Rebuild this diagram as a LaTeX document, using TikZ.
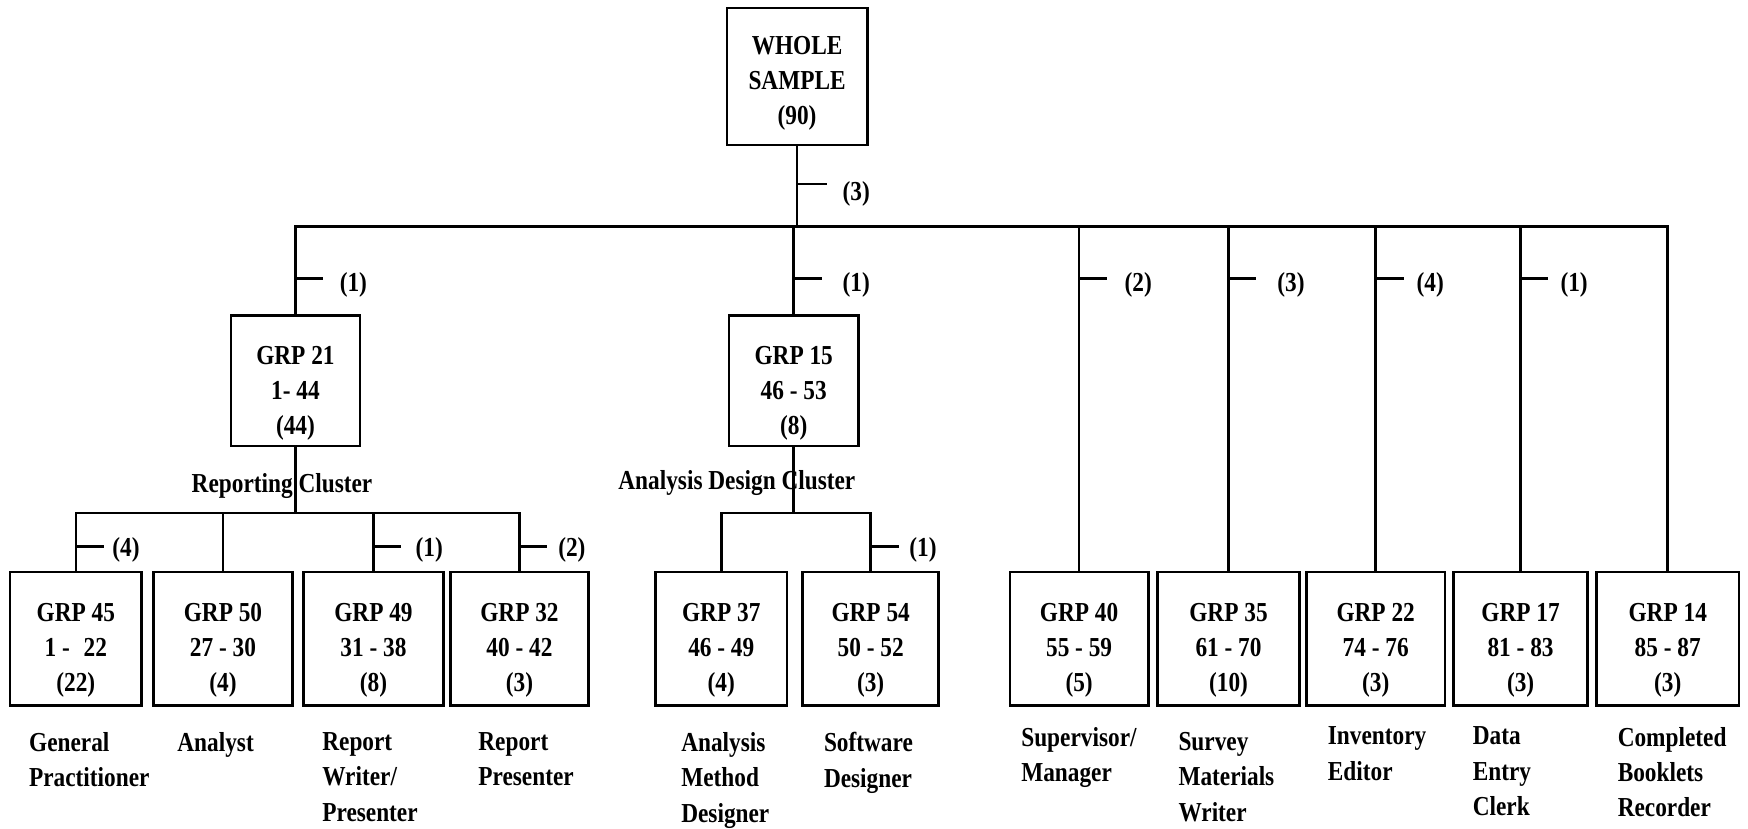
\documentclass[tikz,border=0pt]{standalone}
\usepackage{fontspec}
\setmainfont{Liberation Serif}[FakeStretch=0.85]
\newcommand{\bxt}[2]{\raisebox{0pt}[\dimexpr\height+#1\relax][\depth]{\begin{tabular}{@{}c@{}}#2\end{tabular}}}
\begin{document}
\begin{tikzpicture}[x=0.02cm,y=-0.02cm, line width=1.3pt,
 box/.style={draw, line width=1.3pt, inner sep=0pt, font=\fontsize{14}{18}\selectfont\bfseries},
 lab/.style={inner sep=0pt, font=\fontsize{14}{18}\selectfont\bfseries},
 role/.style={inner sep=0pt, anchor=north west, align=left, font=\fontsize{14}{18}\selectfont\bfseries}]
\useasboundingbox (0,0) rectangle (1568,743);
% boxes
\node[box, minimum width=2.52cm, minimum height=2.46cm] (top) at (715,68.5) {\bxt{6pt}{WHOLE\\SAMPLE\\(90)}};
\node[box, minimum width=2.32cm, minimum height=2.34cm] (g21) at (265,341.5) {\bxt{12pt}{GRP 21\\1- 44\\(44)}};
\node[box, minimum width=2.32cm, minimum height=2.34cm] (g15) at (712,341.5) {\bxt{12pt}{GRP 15\\46 - 53\\(8)}};
\node[box, minimum width=2.36cm, minimum height=2.4cm] (g45) at (68,573) {\bxt{11pt}{GRP 45\\1 -\enspace 22\\(22)}};
\node[box, minimum width=2.5cm, minimum height=2.4cm] (g50) at (200,573) {\bxt{11pt}{GRP 50\\27 - 30\\(4)}};
\node[box, minimum width=2.52cm, minimum height=2.4cm] (g49) at (335,573) {\bxt{11pt}{GRP 49\\31 - 38\\(8)}};
\node[box, minimum width=2.48cm, minimum height=2.4cm] (g32) at (466,573) {\bxt{11pt}{GRP 32\\40 - 42\\(3)}};
\node[box, minimum width=2.36cm, minimum height=2.4cm] (g37) at (647,573) {\bxt{11pt}{GRP 37\\46 - 49\\(4)}};
\node[box, minimum width=2.44cm, minimum height=2.4cm] (g54) at (781,573) {\bxt{11pt}{GRP 54\\50 - 52\\(3)}};
\node[box, minimum width=2.48cm, minimum height=2.4cm] (g40) at (968,573) {\bxt{11pt}{GRP 40\\55 - 59\\(5)}};
\node[box, minimum width=2.54cm, minimum height=2.4cm] (g35) at (1102,573) {\bxt{11pt}{GRP 35\\61 - 70\\(10)}};
\node[box, minimum width=2.48cm, minimum height=2.4cm] (g22) at (1234,573) {\bxt{11pt}{GRP 22\\74 - 76\\(3)}};
\node[box, minimum width=2.4cm, minimum height=2.4cm] (g17) at (1364,573) {\bxt{11pt}{GRP 17\\81 - 83\\(3)}};
\node[box, minimum width=2.56cm, minimum height=2.4cm] (g14) at (1496,573) {\bxt{11pt}{GRP 14\\85 - 87\\(3)}};
% level 0 connectors
\coordinate (b1) at (715,203);
\draw (top.south) -- (b1);
\draw (g21.north) |- (b1) -| (g14.north);
\draw (g15.north) -- (g15.north |- b1);
\draw (g40.north) -- (g40.north |- b1);
\draw (g35.north) -- (g35.north |- b1);
\draw (g22.north) -- (g22.north |- b1);
\draw (g17.north) -- (g17.north |- b1);
% ticks level 0/1
\draw (top.south |- 0,165) -- ++(27,0);
\node[lab] (t0) at (768,174) {(3)};
\draw (g21.north |- 0,250) -- ++(25,0);
\node[lab] (t21) at (317,256) {(1)};
\draw (g15.north |- 0,250) -- ++(25,0);
\node[lab] (t15) at (768,256) {(1)};
\draw (g40.north |- 0,250) -- ++(25,0);
\node[lab] (t40) at (1021,256) {(2)};
\draw (g35.north |- 0,250) -- ++(25,0);
\node[lab] (t35) at (1158,256) {(3)};
\draw (g22.north |- 0,250) -- ++(25,0);
\node[lab] (t22) at (1283,256) {(4)};
\draw (g17.north |- 0,250) -- ++(25,0);
\node[lab] (t17) at (1412,256) {(1)};
% reporting cluster
\coordinate (b2) at (265,460);
\draw (g21.south) -- (b2);
\node[lab] (rc) at (253,436) {Reporting Cluster};
\draw (g45.north) |- (b2) -| (g32.north);
\draw (g50.north) -- (g50.north |- b2);
\draw (g49.north) -- (g49.north |- b2);
\draw (g45.north |- 0,490) -- ++(25,0);
\node[lab] (t45) at (113,493) {(4)};
\draw (g49.north |- 0,490) -- ++(25,0);
\node[lab] (t49) at (385,493) {(1)};
\draw (g32.north |- 0,490) -- ++(25,0);
\node[lab] (t32) at (513,493) {(2)};
% analysis design cluster
\coordinate (b3) at (712,460);
\draw (g15.south) -- (b3);
\node[lab] (ac) at (661,433) {Analysis Design Cluster};
\draw (g37.north) |- (b3) -| (g54.north);
\draw (g54.north |- 0,490) -- ++(25,0);
\node[lab] (t54) at (828,493) {(1)};
% role labels
\node[role] (r45) at (25,656) {General\\Practitioner};
\node[role] (r50) at (158,656) {Analyst};
\node[role] (r49) at (288,656) {Report\\Writer/\\Presenter};
\node[role] (r32) at (428,656) {Report\\Presenter};
\node[role] (r37) at (610,656) {Analysis\\Method\\Designer};
\node[role] (r54) at (738,656) {Software\\Designer};
\node[role] (r40) at (915,651) {Supervisor/\\Manager};
\node[role] (r35) at (1056,656) {Survey\\Materials\\Writer};
\node[role] (r22) at (1190,651) {Inventory\\Editor};
\node[role] (r17) at (1320,651) {Data\\Entry\\Clerk};
\node[role] (r14) at (1450,651) {Completed\\Booklets\\Recorder};
\end{tikzpicture}
\end{document}
